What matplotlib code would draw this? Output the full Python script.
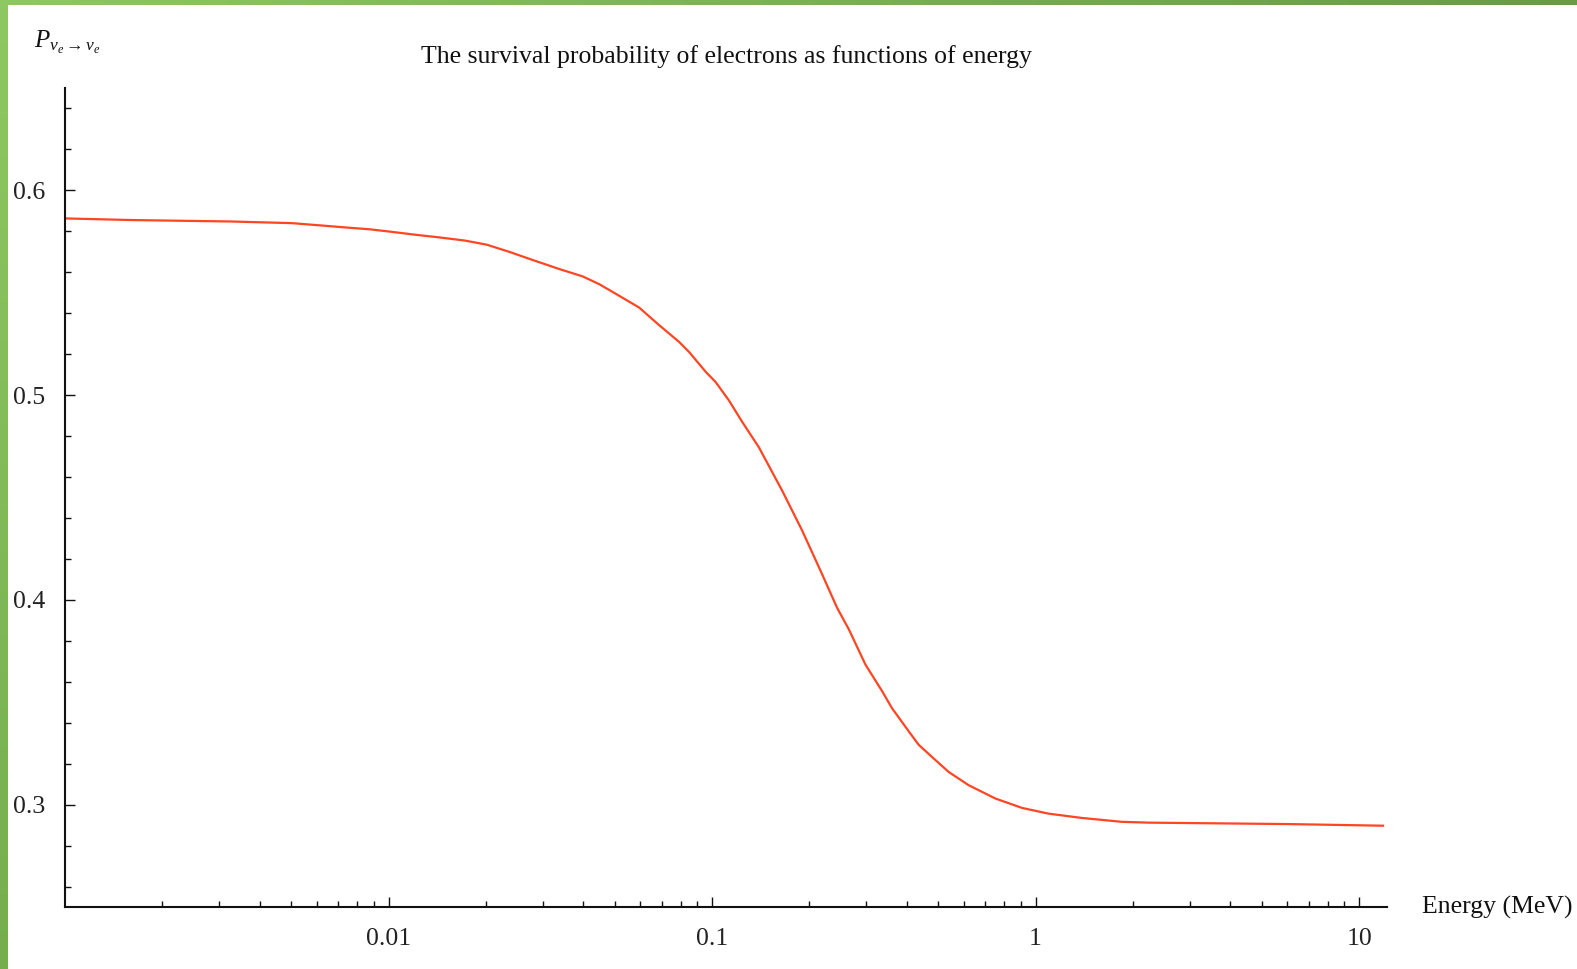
import numpy as np
import matplotlib
matplotlib.use("Agg")
import matplotlib.pyplot as plt
from matplotlib.ticker import FixedLocator, LogLocator, MultipleLocator, NullFormatter

# Data
energy = [0.001, 0.00162, 0.00327, 0.00502, 0.00604, 0.00722, 0.00873, 0.00993,
          0.0120, 0.0144, 0.0172, 0.0201, 0.0236, 0.0279, 0.0337, 0.0398, 0.0448,
          0.0504, 0.0595, 0.0686, 0.0791, 0.0849, 0.0957, 0.1026, 0.1128, 0.1241,
          0.1396, 0.1648, 0.190, 0.2165, 0.2436, 0.265, 0.298, 0.3356, 0.360,
          0.4055, 0.4354, 0.473, 0.5385, 0.621, 0.751, 0.908, 1.097, 1.389, 1.846,
          2.232, 6.07, 11.86]
prob = [0.5863, 0.5855, 0.5848, 0.584, 0.583, 0.582, 0.581, 0.580,
        0.5784, 0.577, 0.5755, 0.5735, 0.570, 0.566, 0.5616, 0.5580, 0.5542,
        0.5495, 0.5428, 0.5342, 0.526, 0.5211, 0.5113, 0.5064, 0.4974, 0.4868,
        0.4745, 0.4533, 0.4338, 0.4142, 0.3961, 0.3855, 0.3684, 0.3554, 0.3471,
        0.3358, 0.3292, 0.3240, 0.316, 0.3095, 0.303, 0.2984, 0.2956, 0.2935, 0.2916,
        0.2912, 0.2905, 0.2897]

x_major = [0.01, 0.1, 1, 10]
x_labels = ["0.01", "0.1", "1", "10"]
y_major = [0.3, 0.4, 0.5, 0.6]
y_labels = ["0.3", "0.4", "0.5", "0.6"]

title = "The survival probability of electrons as functions of energy"
xlabel = "Energy (MeV)"
ylabel = r"$P_{\nu_e\rightarrow\nu_e}$"

plt.rcParams['font.family'] = ['Liberation Serif', 'DejaVu Serif']
plt.rcParams['mathtext.fontset'] = 'custom'
plt.rcParams['mathtext.rm'] = 'Liberation Serif'
plt.rcParams['mathtext.it'] = 'Liberation Serif:italic'

W, H = 1577, 969
fig = plt.figure(figsize=(W / 100, H / 100), dpi=100)
fig.patch.set_facecolor('white')

# green decorative frame (top and left strips)
top_ax = fig.add_axes([0, 1 - 5 / H, 1, 5 / H])
top_ax.imshow(np.linspace(0, 1, 256)[None, :], aspect='auto',
              cmap=matplotlib.colors.LinearSegmentedColormap.from_list('g1', ['#8DC862', '#6A9A48']))
top_ax.axis('off')
left_ax = fig.add_axes([0, 0, 8 / W, 1 - 5 / H])
left_ax.imshow(np.linspace(0, 1, 256)[:, None], aspect='auto',
               cmap=matplotlib.colors.LinearSegmentedColormap.from_list('g2', ['#8DC862', '#76AE4E']))
left_ax.axis('off')

ax = fig.add_axes([65 / W, 1 - 907 / H, (1387 - 65) / W, (907 - 88) / H])
ax.plot(energy, prob, color='#FF4522', lw=1.6, solid_joinstyle='round')
ax.set_xscale('log')
ax.set_xlim(0.001, 12.2)
ax.set_ylim(0.25, 0.65)

ax.xaxis.set_major_locator(FixedLocator(x_major))
ax.set_xticklabels(x_labels)
ax.xaxis.set_minor_locator(LogLocator(base=10, subs=np.arange(2, 10)))
ax.xaxis.set_minor_formatter(NullFormatter())
ax.yaxis.set_major_locator(FixedLocator(y_major))
ax.set_yticklabels(y_labels)
ax.yaxis.set_minor_locator(MultipleLocator(0.02))

for s in ['top', 'right']:
    ax.spines[s].set_visible(False)
for s in ['left', 'bottom']:
    ax.spines[s].set_linewidth(1.5)
    ax.spines[s].set_color('#111111')

ax.tick_params(which='major', direction='in', length=7.5, width=1.0, color='#111111',
               labelsize=18.5, labelcolor='#222222')
ax.tick_params(which='minor', direction='in', length=4.3, width=1.0, color='#111111')
ax.tick_params(axis='x', which='major', pad=15)
ax.tick_params(axis='y', which='major', pad=14)

fig.text(726 / W, 1 - 57 / H, title, ha='center', va='center', fontsize=18.5, color='#111111')
fig.text(1422 / W, 1 - 907 / H, xlabel, ha='left', va='center', fontsize=18.5, color='#111111')
fig.text(34 / W, 1 - 42 / H, ylabel, ha='left', va='center', fontsize=18, color='#111111')

fig.savefig('out.png', dpi=100, facecolor='white')
